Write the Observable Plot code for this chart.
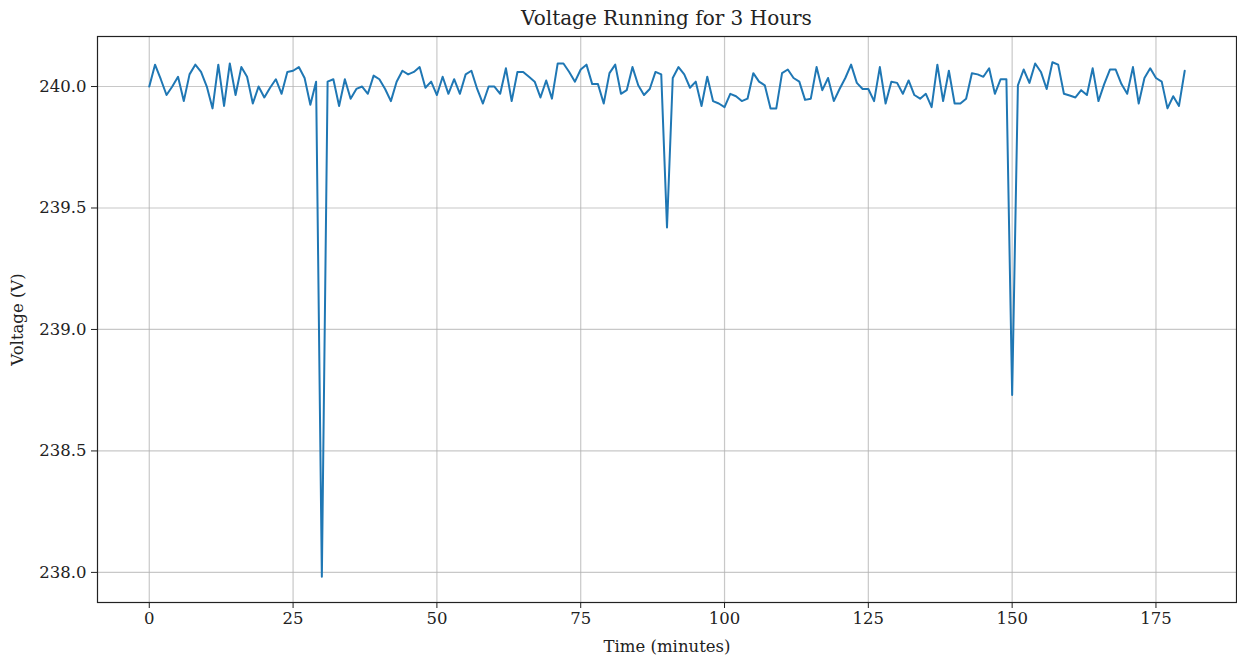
<!DOCTYPE html>
<html>
<head>
<meta charset="utf-8">
<script src="https://cdn.jsdelivr.net/npm/d3@7"></script>
<script src="https://cdn.jsdelivr.net/npm/@observablehq/plot@0.6"></script>
<style>
  html, body { margin: 0; padding: 0; background: #fff; }
  #title { width: 1237px; box-sizing: border-box; padding-left: 97px; padding-right: 1px;
           height: 30px; line-height: 36px; text-align: center;
           font-family: "DejaVu Serif", serif; font-size: 20px; color: #222; }
  #chart svg { display: block; }
</style>
</head>
<body>
<div id="title">Voltage Running for 3 Hours</div>
<div id="chart"></div>
<script>
const titleText = "Voltage Running for 3 Hours";
const xLabel = "Time (minutes)";
const yLabel = "Voltage (V)";
const xTicks = [0, 25, 50, 75, 100, 125, 150, 175];
const yTicks = [238.0, 238.5, 239.0, 239.5, 240.0];

const minutes = d3.range(0, 181);
const voltage = [
  240.00, 240.09, 240.03, 239.965, 240.00, 240.04, 239.94, 240.05, 240.09, 240.06,
  240.00, 239.91, 240.09, 239.92, 240.095, 239.965, 240.08, 240.04, 239.93, 240.00,
  239.955, 239.995, 240.03, 239.97, 240.06, 240.065, 240.08, 240.035, 239.925, 240.02,
  237.982, 240.02, 240.03, 239.92, 240.03, 239.95, 239.99, 240.00, 239.97, 240.045,
  240.03, 239.99, 239.94, 240.02, 240.065, 240.05, 240.06, 240.08, 239.995, 240.02,
  239.965, 240.04, 239.97, 240.03, 239.97, 240.05, 240.065, 239.99, 239.93, 240.00,
  240.00, 239.97, 240.075, 239.94, 240.06, 240.06, 240.04, 240.02, 239.955, 240.025,
  239.95, 240.095, 240.095, 240.06, 240.02, 240.07, 240.09, 240.01, 240.01, 239.93,
  240.055, 240.09, 239.97, 239.985, 240.08, 240.005, 239.965, 239.99, 240.06, 240.05,
  239.42, 240.035, 240.08, 240.05, 239.995, 240.02, 239.92, 240.04, 239.94, 239.93,
  239.915, 239.97, 239.96, 239.94, 239.95, 240.055, 240.02, 240.005, 239.91, 239.91,
  240.055, 240.07, 240.035, 240.02, 239.945, 239.95, 240.08, 239.985, 240.035, 239.94,
  239.99, 240.035, 240.09, 240.015, 239.99, 239.99, 239.94, 240.08, 239.93, 240.02,
  240.015, 239.97, 240.025, 239.965, 239.95, 239.97, 239.915, 240.09, 239.94, 240.065,
  239.93, 239.93, 239.95, 240.055, 240.05, 240.04, 240.075, 239.97, 240.03, 240.03,
  238.73, 240.005, 240.07, 240.015, 240.095, 240.06, 239.99, 240.10, 240.09, 239.97,
  239.963, 239.955, 239.985, 239.965, 240.075, 239.94, 240.01, 240.07, 240.07, 240.01,
  239.97, 240.08, 239.93, 240.035, 240.075, 240.035, 240.02, 239.91, 239.96, 239.92,
  240.065
];

const data = minutes.map((m, i) => ({minute: m, volt: voltage[i]}));

document.getElementById("title").textContent = titleText;

const yMin = d3.min(voltage), yMax = d3.max(voltage);
const yPad = (yMax - yMin) * 0.05;

const chart = Plot.plot({
  width: 1237,
  height: 629,
  marginTop: 6,
  marginLeft: 97,
  marginRight: 1,
  marginBottom: 57,
  style: { fontFamily: "DejaVu Serif, serif", fontSize: "16.5px", color: "#222", background: "#fff" },
  x: { domain: [-9, 189] },
  y: { domain: [yMin - yPad, yMax + yPad] },
  marks: [
    Plot.gridX(xTicks, { stroke: "#b0b0b0", strokeOpacity: 0.7, strokeWidth: 1.2 }),
    Plot.gridY(yTicks, { stroke: "#b0b0b0", strokeOpacity: 0.7, strokeWidth: 1.2 }),
    Plot.line(data, { x: "minute", y: "volt", stroke: "#1f77b4", strokeWidth: 2 }),
    Plot.frame({ stroke: "#222", strokeWidth: 1.2 }),
    Plot.axisX(xTicks, { tickSize: 6, tickPadding: 4, tickFormat: d3.format("d"),
      label: xLabel, labelAnchor: "center", labelArrow: "none", labelOffset: 49 }),
    Plot.axisY(yTicks, { tickSize: 6, tickPadding: 5, tickFormat: d3.format(".1f"),
      label: yLabel, labelAnchor: "center", labelArrow: "none", labelOffset: 86 })
  ]
});
document.getElementById("chart").appendChild(chart);
</script>
</body>
</html>
